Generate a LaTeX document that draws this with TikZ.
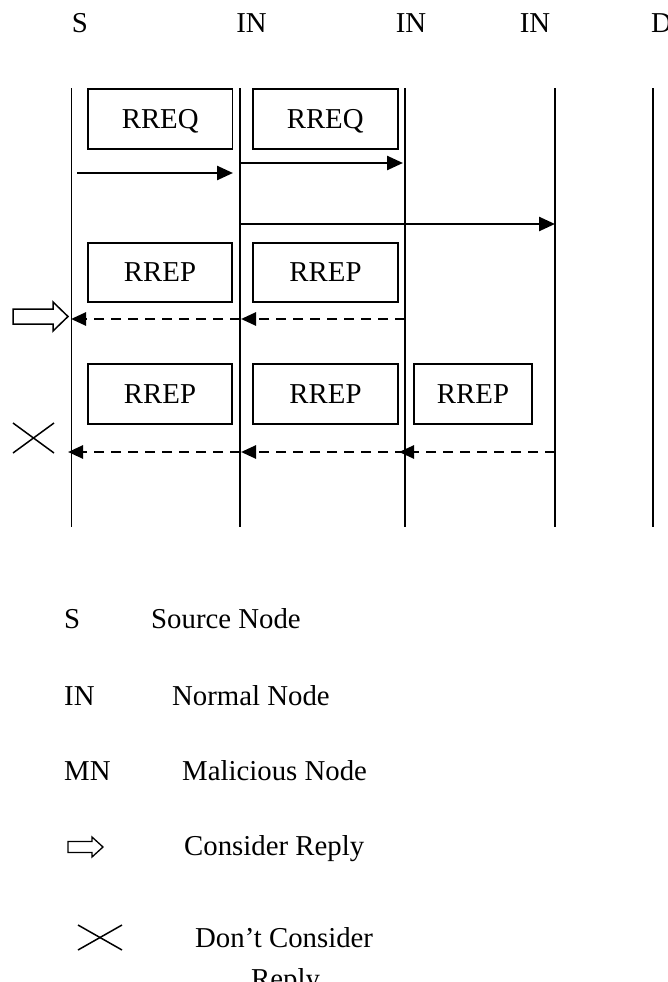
\documentclass[tikz,border=0pt]{standalone}
\usepackage{fontspec}
\setmainfont{Liberation Serif}
\usetikzlibrary{arrows.meta}
\begin{document}
\begin{tikzpicture}[x=1pt,y=-1pt,
  lbl/.style={font=\fontsize{28.8}{34}\selectfont, inner sep=0pt},
  msgbox/.style={draw, line width=1.8pt, inner sep=0pt, text height=19pt, text depth=0pt,
    minimum height=60pt, font=\fontsize{28.8}{34}\selectfont},
  life/.style={line width=1.8pt},
  req/.style={line width=2.5pt, -{Triangle[length=16pt,width=14pt]}},
  rep/.style={line width=2.6pt, dash pattern=on 10pt off 7pt, -{Triangle[length=15pt,width=13pt]}},
  blockarrow/.style={draw, line width=1.5pt, fill=white, line join=miter},
  crossmark/.style={line width=1.5pt}
]
\useasboundingbox (0,0) rectangle (667,982);

% header labels
\node[lbl, anchor=base] (hS) at (80,33) {S};
\node[lbl, anchor=base] (hI1) at (251.5,33) {IN};
\node[lbl, anchor=base] (hI2) at (411,33) {IN};
\node[lbl, anchor=base] (hI3) at (535,33) {IN};
\node[lbl, anchor=base west] (hD) at (651,33) {D};

% lifelines
\coordinate (sT) at (71.5,88);  \coordinate (sB) at (71.5,527);
\coordinate (aT) at (240,88);   \coordinate (aB) at (240,527);
\coordinate (bT) at (405,88);   \coordinate (bB) at (405,527);
\coordinate (cT) at (555,88);   \coordinate (cB) at (555,527);
\coordinate (dT) at (653,88);   \coordinate (dB) at (653,527);
\draw[life] (sT) -- (sB);
\draw[life] (aT) -- (aB);
\draw[life] (bT) -- (bB);
\draw[life] (cT) -- (cB);
\draw[life] (dT) -- (dB);

% message boxes
\node[msgbox, minimum width=144.5pt] (q1) at (160.2,119) {RREQ};
\node[msgbox, minimum width=145pt] (q2) at (325.2,119) {RREQ};
\node[msgbox, minimum width=144.5pt, minimum height=59pt] (p1) at (160,272.2) {RREP};
\node[msgbox, minimum width=145pt, minimum height=59pt] (p2) at (325.5,272.2) {RREP};
\node[msgbox, minimum width=144.5pt] (r1) at (160,394) {RREP};
\node[msgbox, minimum width=145pt] (r2) at (325.5,394) {RREP};
\node[msgbox, minimum width=118pt] (r3) at (473,394) {RREP};

% request arrows
\coordinate (q1s) at (77,173);   \coordinate (q1e) at (233,173);
\coordinate (q2s) at (240,163);  \coordinate (q2e) at (403,163);
\coordinate (q3s) at (240,224);  \coordinate (q3e) at (555,224);
\draw[req] (q1s) -- (q1e);
\draw[req] (q2s) -- (q2e);
\draw[req] (q3s) -- (q3e);

% reply arrows, first row
\coordinate (p1a) at (405,319); \coordinate (p1b) at (241,319);
\coordinate (p1c) at (240,319); \coordinate (p1d) at (71,319);
\draw[rep] (p1a) -- (p1b);
\draw[rep] (p1c) -- (p1d);

% reply arrows, second row
\coordinate (r1a) at (555,452); \coordinate (r1b) at (399,452);
\coordinate (r1c) at (405,452); \coordinate (r1d) at (241,452);
\coordinate (r1e) at (240,452); \coordinate (r1f) at (68,452);
\draw[rep] (r1a) -- (r1b);
\draw[rep] (r1c) -- (r1d);
\draw[rep] (r1e) -- (r1f);

% consider arrow (diagram)
\draw[blockarrow] (13,309) -- (53,309) -- (53,302) -- (68,316.5) -- (53,331) -- (53,324) -- (13,324) -- cycle;
% don't consider cross (diagram)
\draw[crossmark] (13,423) -- (54,453);
\draw[crossmark] (13,453) -- (54,423);

% legend
\node[lbl, anchor=base west] (lS) at (64,628) {S};
\node[lbl, anchor=base west] (lSt) at (151,628) {Source Node};
\node[lbl, anchor=base west] (lI) at (64,705) {IN};
\node[lbl, anchor=base west] (lIt) at (172,705) {Normal Node};
\node[lbl, anchor=base west] (lM) at (64,780) {MN};
\node[lbl, anchor=base west] (lMt) at (182,780) {Malicious Node};
\draw[blockarrow, line width=1.3pt] (68,841.5) -- (92,841.5) -- (92,837) -- (103,847) -- (92,857) -- (92,852.5) -- (68,852.5) -- cycle;
\node[lbl, anchor=base west] (lCt) at (184,855) {Consider Reply};
\draw[crossmark] (78,925) -- (122,950);
\draw[crossmark] (78,950) -- (122,925);
\node[lbl, anchor=base west] (lDt) at (195,947) {Don’t Consider};
\node[lbl, anchor=base west] (lDt2) at (251,988) {Reply};
\end{tikzpicture}
\end{document}
